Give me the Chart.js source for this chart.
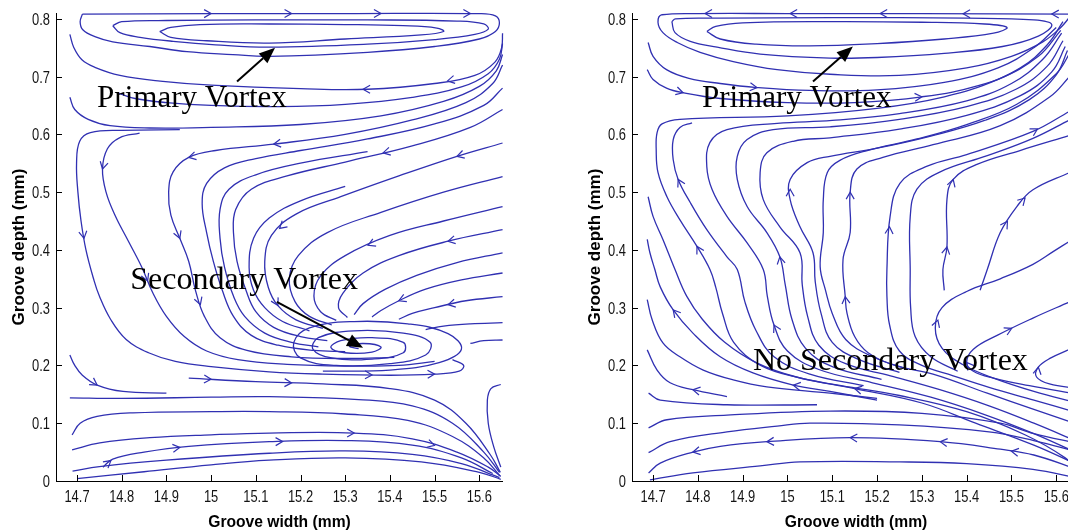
<!DOCTYPE html>
<html>
<head>
<meta charset="utf-8">
<script src="https://cdn.jsdelivr.net/npm/chart.js@4/dist/chart.umd.min.js"></script>
<style>
  html, body { margin: 0; padding: 0; background: #fff; overflow: hidden; width: 1068px; height: 531px; }
  canvas { position: absolute; top: 0; }
  #leftChart { left: 0; }
  #rightChart { left: 576px; }
</style>
</head>
<body>
<canvas id="leftChart" width="530" height="531"></canvas>
<canvas id="rightChart" width="520" height="531"></canvas>
<script>
// ---- axes ----
const xTicks = [14.7, 14.8, 14.9, 15.0, 15.1, 15.2, 15.3, 15.4, 15.5, 15.6];
const xTickLabels = ['14.7', '14.8', '14.9', '15', '15.1', '15.2', '15.3', '15.4', '15.5', '15.6'];
const yTicks = [0, 0.1, 0.2, 0.3, 0.4, 0.5, 0.6, 0.7, 0.8];
const yTickLabels = ['0', '0.1', '0.2', '0.3', '0.4', '0.5', '0.6', '0.7', '0.8'];
const xLimits = [14.653, 15.653];
const yLimits = [0, 0.81];
const xTitle = 'Groove width (mm)';
const yTitle = 'Groove depth (mm)';

// ---- case 1: streamlines, each listed in flow order ----
const leftVortexLoops = [
  [[14.885,0.778],[14.91,0.785],[14.975,0.79],[15.13,0.791],[15.3,0.79],[15.43,0.788],[15.505,0.784],[15.52,0.778],[15.47,0.772],[15.3,0.765],[15.13,0.758],[14.99,0.762],[14.91,0.768],[14.885,0.778]],
  [[14.78,0.788],[14.8,0.795],[14.9,0.797],[15.1,0.798],[15.35,0.798],[15.55,0.796],[15.61,0.791],[15.62,0.782],[15.59,0.773],[15.5,0.764],[15.35,0.756],[15.13,0.751],[15.01,0.755],[14.915,0.761],[14.841,0.768],[14.796,0.776],[14.78,0.788]],
  [[14.712,0.808],[15.0,0.809],[15.3,0.809],[15.6,0.809],[15.636,0.805],[15.645,0.793],[15.636,0.778],[15.6,0.765],[15.5,0.752],[15.35,0.742],[15.13,0.735],[15.049,0.738],[14.946,0.743],[14.863,0.752],[14.78,0.76],[14.74,0.769],[14.713,0.781],[14.707,0.795],[14.712,0.808]]
];
const leftUpperSweeps = [
  [[15.652,0.775],[15.65,0.75],[15.635,0.725],[15.59,0.702],[15.5,0.688],[15.35,0.678],[15.2,0.679],[15.0,0.685],[14.886,0.692],[14.796,0.702],[14.74,0.716],[14.711,0.729],[14.693,0.75],[14.684,0.773]],
  [[15.652,0.757],[15.645,0.73],[15.62,0.705],[15.56,0.682],[15.45,0.664],[15.3,0.652],[15.15,0.648],[15.0,0.65],[14.9,0.655],[14.83,0.662],[14.79,0.672]],
  [[15.652,0.738],[15.638,0.71],[15.6,0.683],[15.52,0.657],[15.38,0.632],[15.2,0.617],[15.0,0.612],[14.863,0.611],[14.774,0.615],[14.725,0.626],[14.695,0.643],[14.684,0.664]],
  [[14.93,0.608],[14.8,0.607],[14.73,0.603],[14.706,0.588],[14.699,0.55],[14.702,0.5],[14.709,0.45],[14.72,0.4],[14.737,0.35],[14.75,0.32],[14.775,0.28],[14.81,0.245],[14.86,0.222],[14.92,0.207],[15.0,0.198],[15.13,0.189],[15.25,0.185],[15.4,0.183],[15.5,0.185],[15.555,0.19],[15.565,0.2],[15.54,0.21]]
];
const leftHooks = [
  [[14.84,0.602],[14.795,0.594],[14.768,0.575],[14.757,0.54],[14.765,0.5],[14.785,0.46],[14.815,0.415],[14.845,0.37],[14.87,0.325],[14.9,0.285],[14.94,0.25],[14.99,0.225],[15.06,0.21],[15.17,0.202],[15.3,0.199],[15.42,0.2],[15.5,0.207]],
  [[15.652,0.72],[15.63,0.688],[15.57,0.655],[15.45,0.625],[15.3,0.6],[15.14,0.583],[15.01,0.572],[14.95,0.56],[14.915,0.535],[14.905,0.5],[14.91,0.46],[14.93,0.42],[14.95,0.38],[14.965,0.33],[14.985,0.285],[15.02,0.248],[15.08,0.226],[15.18,0.215],[15.3,0.212],[15.41,0.214]],
  [[15.652,0.68],[15.61,0.65],[15.5,0.618],[15.35,0.592],[15.2,0.572],[15.1,0.558],[15.03,0.542],[14.99,0.515],[14.98,0.48],[14.99,0.43],[15.005,0.38],[15.025,0.33],[15.05,0.285],[15.09,0.252],[15.15,0.235],[15.23,0.226],[15.3,0.224]],
  [[15.35,0.57],[15.2,0.55],[15.1,0.53],[15.04,0.505],[15.02,0.47],[15.02,0.42],[15.03,0.37],[15.05,0.32],[15.075,0.285],[15.12,0.256],[15.18,0.24],[15.24,0.232]],
  [[15.652,0.643],[15.58,0.612],[15.45,0.58],[15.3,0.552],[15.17,0.528],[15.09,0.505],[15.055,0.47],[15.05,0.43],[15.058,0.38],[15.078,0.33],[15.1,0.293],[15.14,0.266],[15.2,0.25],[15.26,0.243]],
  [[15.3,0.51],[15.2,0.485],[15.13,0.455],[15.095,0.42],[15.085,0.37],[15.095,0.33],[15.12,0.3],[15.16,0.276],[15.22,0.26]],
  [[15.652,0.585],[15.55,0.562],[15.42,0.528],[15.29,0.492],[15.19,0.462],[15.135,0.425],[15.12,0.38],[15.128,0.335],[15.15,0.303],[15.19,0.279],[15.25,0.264]],
  [[15.652,0.527],[15.52,0.5],[15.38,0.465],[15.26,0.43],[15.195,0.39],[15.175,0.35],[15.188,0.31],[15.22,0.285],[15.27,0.27]],
  [[15.652,0.475],[15.52,0.45],[15.4,0.425],[15.3,0.39],[15.245,0.355],[15.23,0.32],[15.245,0.293],[15.28,0.278]],
  [[15.652,0.435],[15.53,0.415],[15.42,0.39],[15.34,0.36],[15.295,0.325],[15.285,0.3],[15.305,0.283]]
];
const leftEdgeInflow = [
  [[15.652,0.395],[15.55,0.378],[15.46,0.356],[15.39,0.332],[15.34,0.307],[15.32,0.288]],
  [[15.652,0.36],[15.56,0.348],[15.48,0.332],[15.42,0.312],[15.38,0.295],[15.36,0.284]],
  [[15.652,0.319],[15.57,0.312],[15.5,0.3],[15.45,0.29],[15.42,0.28]],
  [[15.652,0.274],[15.58,0.272],[15.52,0.268],[15.48,0.262]],
  [[15.652,0.244],[15.61,0.243],[15.58,0.238]]
];
const leftSpiral = [
  [[15.25,0.19],[15.4,0.192],[15.51,0.205],[15.56,0.228],[15.53,0.255],[15.44,0.272],[15.32,0.276],[15.22,0.265],[15.185,0.24],[15.2,0.213],[15.28,0.2],[15.4,0.203],[15.48,0.218],[15.49,0.24],[15.43,0.256],[15.32,0.26],[15.24,0.248],[15.228,0.228],[15.27,0.213],[15.36,0.211],[15.43,0.222],[15.43,0.24],[15.36,0.248],[15.29,0.243],[15.268,0.231],[15.3,0.222],[15.36,0.223],[15.38,0.232],[15.34,0.238],[15.31,0.233],[15.33,0.229]]
];
const leftLowerFlow = [
  [[14.684,0.218],[14.695,0.2],[14.712,0.183],[14.745,0.166],[14.803,0.155],[14.9,0.152]],
  [[14.684,0.144],[14.8,0.143],[15.0,0.145],[15.13,0.146],[15.33,0.141],[15.45,0.13],[15.54,0.1],[15.61,0.05],[15.645,0.015]],
  [[14.95,0.178],[15.1,0.172],[15.25,0.168],[15.4,0.16],[15.5,0.14],[15.57,0.1],[15.625,0.045],[15.647,0.015]],
  [[14.689,0.08],[14.707,0.1],[14.745,0.112],[14.825,0.118],[15.0,0.12],[15.13,0.12],[15.3,0.116],[15.44,0.105],[15.54,0.077],[15.61,0.04],[15.645,0.01]],
  [[14.689,0.054],[14.751,0.066],[14.863,0.075],[15.0,0.08],[15.13,0.083],[15.32,0.083],[15.45,0.073],[15.55,0.05],[15.62,0.024],[15.648,0.008]],
  [[14.758,0.024],[14.78,0.038],[14.85,0.05],[14.95,0.06],[15.13,0.068],[15.3,0.07],[15.45,0.062],[15.56,0.04],[15.63,0.013]],
  [[14.69,0.017],[14.75,0.025],[14.9,0.036],[15.13,0.048],[15.3,0.052],[15.45,0.046],[15.56,0.03],[15.645,0.006]],
  [[14.7,0.004],[14.85,0.016],[15.0,0.028],[15.13,0.036],[15.3,0.04],[15.47,0.033],[15.6,0.015],[15.648,0.003]],
  [[15.648,0.167],[15.626,0.16],[15.618,0.14],[15.62,0.1],[15.632,0.06],[15.648,0.024]]
];
const leftFlowArrows = [
  [15.0,0.809],[15.18,0.809],[15.38,0.809],[15.58,0.809],
  [15.34,0.678],[15.53,0.688],
  [14.95,0.56],[14.757,0.54],[14.716,0.42],[14.93,0.42],
  [15.14,0.583],[15.385,0.567],[15.55,0.562],[15.15,0.44],[15.35,0.41],[15.53,0.415],
  [14.86,0.347],[14.975,0.305],
  [14.745,0.166],[15.0,0.176],[14.93,0.058],[14.775,0.036],
  [15.42,0.312],[15.53,0.306],[15.14,0.3],
  [15.36,0.183],[15.5,0.185],[15.18,0.17],[15.32,0.083],[15.16,0.068],[15.5,0.062]
];

// ---- case 2: streamlines, each listed in flow order ----
const rightVortexLoops = [
  [[14.82,0.778],[14.85,0.765],[14.93,0.756],[15.05,0.753],[15.2,0.757],[15.35,0.765],[15.46,0.775],[15.49,0.785],[15.44,0.791],[15.3,0.794],[15.1,0.795],[14.9,0.793],[14.84,0.787],[14.82,0.778]],
  [[14.742,0.795],[14.749,0.776],[14.783,0.761],[14.843,0.751],[14.939,0.739],[15.095,0.732],[15.2,0.733],[15.35,0.74],[15.48,0.752],[15.56,0.77],[15.59,0.79],[15.55,0.798],[15.4,0.801],[15.1,0.802],[14.85,0.801],[14.75,0.8],[14.742,0.795]],
  [[15.635,0.808],[15.3,0.809],[15.0,0.809],[14.8,0.809],[14.72,0.807],[14.711,0.794],[14.722,0.776],[14.754,0.759],[14.805,0.742],[14.879,0.726],[14.977,0.712],[15.095,0.704],[15.25,0.702],[15.4,0.715],[15.5,0.735],[15.57,0.76],[15.61,0.785],[15.63,0.803]]
];
const rightUpperSweeps = [
  [[14.689,0.759],[14.7,0.735],[14.73,0.712],[14.78,0.697],[14.85,0.688],[14.932,0.681],[15.05,0.676],[15.2,0.677],[15.35,0.69],[15.47,0.715],[15.55,0.75],[15.6,0.785]],
  [[14.687,0.712],[14.7,0.695],[14.73,0.68],[14.767,0.672],[14.85,0.662],[15.0,0.655],[15.15,0.655],[15.3,0.665],[15.43,0.685],[15.52,0.715],[15.58,0.755],[15.615,0.795]]
];
const rightRisingLines = [
  [[15.648,0.028],[15.55,0.062],[15.42,0.1],[15.3,0.135],[15.15,0.16],[15.03,0.178],[14.94,0.2],[14.88,0.24],[14.855,0.29],[14.84,0.335],[14.827,0.366],[14.798,0.406],[14.76,0.452],[14.731,0.492],[14.711,0.534],[14.707,0.574],[14.709,0.603],[14.72,0.618],[14.76,0.626],[15.0,0.632],[15.2,0.645],[15.35,0.665],[15.47,0.695],[15.56,0.735],[15.61,0.78]],
  [[15.17,0.165],[15.05,0.185],[14.97,0.215],[14.93,0.26],[14.905,0.31],[14.888,0.366],[14.865,0.388],[14.82,0.435],[14.783,0.482],[14.756,0.522],[14.745,0.556],[14.745,0.591],[14.76,0.612],[14.787,0.62]],
  [[15.648,0.048],[15.55,0.082],[15.44,0.115],[15.32,0.145],[15.19,0.17],[15.07,0.193],[15.0,0.225],[14.97,0.27],[14.955,0.32],[14.946,0.366],[14.91,0.412],[14.865,0.458],[14.832,0.504],[14.82,0.544],[14.827,0.586],[14.865,0.608],[14.977,0.619],[15.1,0.624],[15.25,0.636],[15.4,0.658],[15.5,0.688],[15.57,0.73],[15.612,0.775]],
  [[15.21,0.176],[15.1,0.198],[15.04,0.23],[15.01,0.28],[14.995,0.34],[14.983,0.388],[14.954,0.43],[14.91,0.475],[14.888,0.522],[14.888,0.562],[14.91,0.591],[14.968,0.608],[15.095,0.613],[15.25,0.626],[15.4,0.648],[15.51,0.678],[15.58,0.718],[15.615,0.762]],
  [[15.648,0.068],[15.55,0.1],[15.45,0.13],[15.34,0.158],[15.23,0.182],[15.13,0.203],[15.07,0.235],[15.045,0.285],[15.033,0.34],[15.028,0.395],[14.983,0.44],[14.946,0.487],[14.939,0.534],[14.954,0.568],[15.013,0.588],[15.095,0.594],[15.25,0.609],[15.4,0.633],[15.52,0.667],[15.59,0.708],[15.62,0.752]],
  [[15.25,0.188],[15.16,0.21],[15.1,0.24],[15.075,0.29],[15.062,0.345],[15.057,0.395],[15.028,0.44],[15.006,0.487],[15.006,0.522],[15.044,0.551],[15.095,0.562],[15.2,0.576],[15.32,0.597],[15.44,0.624],[15.54,0.66],[15.6,0.703],[15.625,0.745]],
  [[15.27,0.193],[15.19,0.215],[15.13,0.245],[15.1,0.29],[15.085,0.33],[15.073,0.371],[15.08,0.43],[15.08,0.487],[15.089,0.534],[15.117,0.555],[15.178,0.572],[15.289,0.592],[15.4,0.617],[15.512,0.652],[15.6,0.705],[15.63,0.74]],
  [[15.648,0.098],[15.55,0.124],[15.446,0.152],[15.325,0.185],[15.24,0.2],[15.18,0.222],[15.15,0.25],[15.133,0.29],[15.129,0.319],[15.124,0.383],[15.14,0.43],[15.14,0.5],[15.155,0.54],[15.213,0.56],[15.325,0.582],[15.475,0.615],[15.586,0.665],[15.63,0.7]],
  [[15.648,0.118],[15.55,0.14],[15.45,0.162],[15.37,0.182],[15.3,0.2],[15.25,0.225],[15.228,0.27],[15.222,0.32],[15.222,0.366],[15.229,0.457],[15.251,0.515],[15.312,0.545],[15.4,0.565],[15.548,0.605],[15.63,0.64]],
  [[15.38,0.19],[15.32,0.215],[15.285,0.25],[15.275,0.3],[15.274,0.366],[15.274,0.457],[15.289,0.505],[15.341,0.535],[15.446,0.563],[15.548,0.593],[15.63,0.625]],
  [[15.35,0.33],[15.347,0.366],[15.356,0.405],[15.356,0.487],[15.37,0.522],[15.423,0.548],[15.519,0.572],[15.63,0.598]],
  [[15.43,0.33],[15.446,0.366],[15.475,0.43],[15.512,0.475],[15.548,0.504],[15.63,0.534]],
  [[15.648,0.135],[15.55,0.155],[15.46,0.178],[15.39,0.202],[15.345,0.23],[15.33,0.265],[15.345,0.3],[15.4,0.328],[15.475,0.35],[15.548,0.375],[15.593,0.397],[15.63,0.415]],
  [[15.648,0.15],[15.54,0.165],[15.46,0.178],[15.415,0.19],[15.4,0.205],[15.415,0.228],[15.468,0.252],[15.548,0.282],[15.63,0.31]],
  [[15.648,0.16],[15.585,0.168],[15.556,0.18],[15.56,0.197],[15.588,0.213],[15.63,0.228]]
];
const rightWallLines = [
  [[15.648,0.018],[15.62,0.04],[15.53,0.08],[15.4,0.12],[15.25,0.148],[15.12,0.165],[15.02,0.18],[14.93,0.205],[14.86,0.24],[14.81,0.28],[14.775,0.32],[14.749,0.366],[14.722,0.418],[14.7,0.458],[14.689,0.492]],
  [[15.2,0.14],[15.095,0.155],[15.013,0.166],[14.923,0.187],[14.85,0.215],[14.789,0.256],[14.745,0.296],[14.716,0.336],[14.704,0.366],[14.693,0.395],[14.687,0.418]],
  [[15.2,0.143],[15.095,0.152],[14.954,0.163],[14.879,0.175],[14.812,0.192],[14.76,0.215],[14.722,0.239],[14.698,0.279],[14.687,0.314]],
  [[14.865,0.146],[14.789,0.158],[14.738,0.17],[14.709,0.192],[14.687,0.227]],
  [[15.066,0.132],[14.865,0.132],[14.716,0.14],[14.69,0.152]]
];
const rightBottomLines = [
  [[15.648,0.065],[15.55,0.082],[15.475,0.1],[15.3,0.117],[15.095,0.121],[14.865,0.114],[14.731,0.106],[14.69,0.092]],
  [[15.648,0.05],[15.55,0.07],[15.45,0.085],[15.25,0.097],[15.05,0.1],[14.977,0.095],[14.865,0.085],[14.738,0.068],[14.69,0.049]],
  [[15.648,0.02],[15.55,0.045],[15.475,0.055],[15.341,0.068],[15.14,0.075],[14.954,0.068],[14.85,0.06],[14.789,0.05],[14.716,0.031],[14.69,0.014]],
  [[15.648,0.005],[15.548,0.02],[15.4,0.03],[15.251,0.033],[15.028,0.033],[14.939,0.026],[14.789,0.014],[14.693,0.002]]
];
const rightFlowArrows = [
  [14.816,0.809],[15.006,0.809],[15.207,0.809],[15.392,0.809],[15.59,0.809],
  [14.767,0.672],[14.932,0.681],
  [14.756,0.522],[14.798,0.406],[14.983,0.388],[15.006,0.505],
  [15.14,0.5],[15.37,0.522],[15.53,0.49],[15.229,0.44],[15.356,0.405],[15.49,0.45],
  [15.3,0.665],[15.56,0.607],
  [14.745,0.296],[14.97,0.27],[14.789,0.158],[15.013,0.166],[14.954,0.068],[14.789,0.05],
  [15.129,0.319],[15.33,0.28],[15.5,0.265],[15.15,0.16],[15.4,0.205],[15.56,0.197],
  [15.14,0.075],[15.341,0.068],[15.5,0.052]
];

// ---- labels on the plots ----
const leftNotes = [
  { text: 'Primary Vortex', x: 14.745, y: 0.648, size: 31 },
  { text: 'Secondary Vortex', x: 14.819, y: 0.333, size: 32 }
];
const leftPointers = [
  { from: [15.058, 0.6915], to: [15.143, 0.750] },
  { from: [15.147, 0.310], to: [15.34, 0.2305] }
];
const rightNotes = [
  { text: 'Primary Vortex', x: 14.809, y: 0.648, size: 31 },
  { text: 'No Secondary Vortex', x: 14.923, y: 0.192, size: 32 }
];
const rightPointers = [
  { from: [15.057, 0.6915], to: [15.146, 0.752] }
];

const STREAM_COLOR = 'rgb(48,48,178)';

function toDatasets(groups) {
  const sets = [];
  groups.forEach(group => group.forEach(line => {
    sets.push({
      data: line.map(p => ({ x: p[0], y: p[1] })),
      showLine: true,
      borderColor: STREAM_COLOR,
      borderWidth: 1.3,
      pointRadius: 0,
      pointHoverRadius: 0,
      tension: 0.4,
      fill: false,
      clip: 6
    });
  }));
  return sets;
}

// nearest point on any streamline, with the local flow direction
function snapToStream(chart, px, py) {
  const xs = chart.scales.x, ys = chart.scales.y;
  let best = null;
  chart.data.datasets.forEach(ds => {
    const pts = ds.data.map(p => [xs.getPixelForValue(p.x), ys.getPixelForValue(p.y)]);
    for (let i = 0; i < pts.length - 1; i++) {
      const [x1, y1] = pts[i], [x2, y2] = pts[i + 1];
      const dx = x2 - x1, dy = y2 - y1, L = dx * dx + dy * dy;
      let t = L ? ((px - x1) * dx + (py - y1) * dy) / L : 0;
      t = Math.max(0, Math.min(1, t));
      const qx = x1 + t * dx, qy = y1 + t * dy;
      const d = (qx - px) ** 2 + (qy - py) ** 2;
      if (!best || d < best.d) best = { d, qx, qy, ang: Math.atan2(dy, dx) };
    }
  });
  return best;
}

function makeDecor(flowArrows, notes, pointers) {
  return {
    id: 'decor',
    afterDatasetsDraw(chart) {
      const { ctx, chartArea: a, scales: { x, y } } = chart;
      ctx.save();

      // flow direction chevrons
      ctx.strokeStyle = STREAM_COLOR;
      ctx.lineWidth = 1.2;
      flowArrows.forEach(([vx, vy]) => {
        const s = snapToStream(chart, x.getPixelForValue(vx), y.getPixelForValue(vy));
        if (!s) return;
        ctx.save();
        ctx.translate(s.qx, s.qy);
        ctx.rotate(s.ang);
        ctx.beginPath();
        ctx.moveTo(-7, -4); ctx.lineTo(0, 0); ctx.lineTo(-7, 4);
        ctx.stroke();
        ctx.restore();
      });

      // axis lines and inward ticks
      ctx.strokeStyle = '#000';
      ctx.lineWidth = 1;
      ctx.beginPath();
      ctx.moveTo(a.left + 0.5, a.top);
      ctx.lineTo(a.left + 0.5, a.bottom + 0.5);
      ctx.lineTo(a.right, a.bottom + 0.5);
      xTicks.forEach(v => {
        const p = Math.round(x.getPixelForValue(v)) + 0.5;
        ctx.moveTo(p, a.bottom); ctx.lineTo(p, a.bottom - 6);
      });
      yTicks.forEach(v => {
        const p = Math.round(y.getPixelForValue(v)) + 0.5;
        ctx.moveTo(a.left, p); ctx.lineTo(a.left + 6, p);
      });
      ctx.stroke();

      // tick labels (narrow face)
      ctx.fillStyle = '#141414';
      ctx.font = '17px "Liberation Sans", Arial, sans-serif';
      ctx.textBaseline = 'alphabetic';
      xTicks.forEach((v, i) => {
        ctx.save();
        ctx.translate(x.getPixelForValue(v), a.bottom + 21);
        ctx.scale(0.76, 1);
        ctx.textAlign = 'center';
        ctx.fillText(xTickLabels[i], 0, 0);
        ctx.restore();
      });
      yTicks.forEach((v, i) => {
        ctx.save();
        ctx.translate(a.left - 6, y.getPixelForValue(v) + 6);
        ctx.scale(0.76, 1);
        ctx.textAlign = 'right';
        ctx.fillText(yTickLabels[i], 0, 0);
        ctx.restore();
      });

      // axis titles
      ctx.fillStyle = '#000';
      ctx.font = 'bold 17px "Liberation Sans", Arial, sans-serif';
      ctx.save();
      ctx.translate((a.left + a.right) / 2, a.bottom + 46);
      ctx.scale(0.92, 1);
      ctx.textAlign = 'center';
      ctx.fillText(xTitle, 0, 0);
      ctx.restore();
      ctx.save();
      ctx.translate(a.left - 32, (a.top + a.bottom) / 2);
      ctx.rotate(-Math.PI / 2);
      ctx.textAlign = 'center';
      ctx.fillText(yTitle, 0, 0);
      ctx.restore();

      // pointer arrows
      pointers.forEach(pt => {
        const x1 = x.getPixelForValue(pt.from[0]), y1 = y.getPixelForValue(pt.from[1]);
        const x2 = x.getPixelForValue(pt.to[0]), y2 = y.getPixelForValue(pt.to[1]);
        const ang = Math.atan2(y2 - y1, x2 - x1);
        const head = 16, half = 6.5;
        const bx = x2 - head * Math.cos(ang), by = y2 - head * Math.sin(ang);
        ctx.strokeStyle = '#000';
        ctx.lineWidth = 2;
        ctx.beginPath();
        ctx.moveTo(x1, y1); ctx.lineTo(bx, by);
        ctx.stroke();
        ctx.fillStyle = '#000';
        ctx.beginPath();
        ctx.moveTo(x2, y2);
        ctx.lineTo(bx + half * Math.sin(ang), by - half * Math.cos(ang));
        ctx.lineTo(bx - half * Math.sin(ang), by + half * Math.cos(ang));
        ctx.closePath();
        ctx.fill();
      });

      // text labels
      ctx.fillStyle = '#000';
      ctx.textAlign = 'left';
      ctx.textBaseline = 'alphabetic';
      notes.forEach(n => {
        ctx.font = n.size + 'px "Liberation Serif", "Times New Roman", serif';
        ctx.fillText(n.text, x.getPixelForValue(n.x), y.getPixelForValue(n.y));
      });

      ctx.restore();
    }
  };
}

function buildChart(id, groups, flowArrows, notes, pointers, rightPad) {
  return new Chart(document.getElementById(id), {
    type: 'scatter',
    data: { datasets: toDatasets(groups) },
    options: {
      responsive: false,
      animation: false,
      devicePixelRatio: 1,
      events: [],
      layout: { padding: { left: 0, top: 13, right: rightPad, bottom: 0 } },
      plugins: { legend: { display: false }, tooltip: { enabled: false } },
      scales: {
        x: {
          type: 'linear', position: 'bottom', min: xLimits[0], max: xLimits[1],
          grid: { display: false }, border: { display: false }, ticks: { display: false },
          afterFit(scale) { scale.height = 50; }
        },
        y: {
          type: 'linear', position: 'left', min: yLimits[0], max: yLimits[1],
          grid: { display: false }, border: { display: false }, ticks: { display: false },
          afterFit(scale) { scale.width = 56; }
        }
      }
    },
    plugins: [makeDecor(flowArrows, notes, pointers)]
  });
}

buildChart('leftChart',
  [leftVortexLoops, leftUpperSweeps, leftHooks, leftEdgeInflow, leftSpiral, leftLowerFlow],
  leftFlowArrows, leftNotes, leftPointers, 27);
buildChart('rightChart',
  [rightVortexLoops, rightUpperSweeps, rightRisingLines, rightWallLines, rightBottomLines],
  rightFlowArrows, rightNotes, rightPointers, 16);
</script>
</body>
</html>
